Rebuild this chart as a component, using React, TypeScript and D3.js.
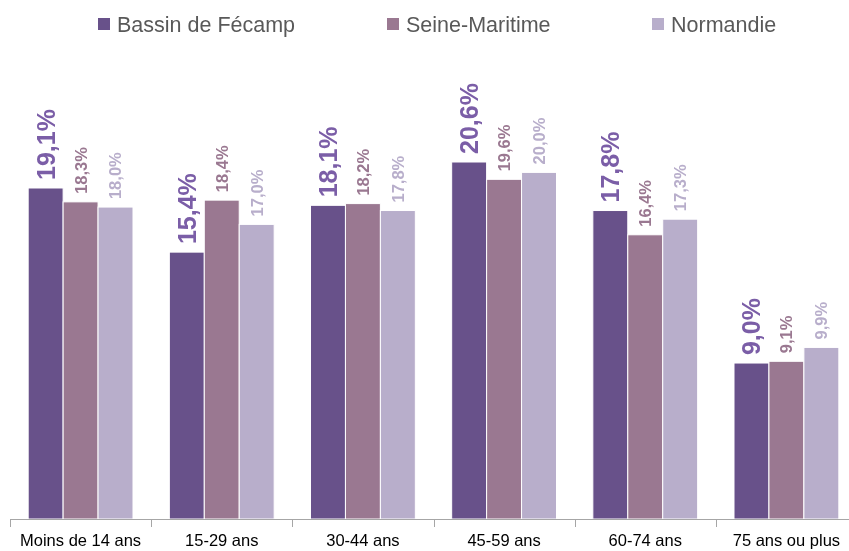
import React, { useEffect, useRef } from 'react';
import * as d3 from 'd3';

const categories = ['Moins de 14 ans', '15-29 ans', '30-44 ans', '45-59 ans', '60-74 ans', '75 ans ou plus'];
const seriesNames = ['Bassin de Fécamp', 'Seine-Maritime', 'Normandie'];
const bassin = [19.1, 15.4, 18.1, 20.6, 17.8, 9.0];
const seine = [18.3, 18.4, 18.2, 19.6, 16.4, 9.1];
const normandie = [18.0, 17.0, 17.8, 20.0, 17.3, 9.9];

const barColors = ['#68518a', '#9a7891', '#b8aecb'];
const labelColors = ['#7b5ea7', '#9a7891', '#b8aecb'];

export default function App() {
  const svgRef = useRef<SVGSVGElement>(null);

  useEffect(() => {
    const width = 849;
    const height = 551;
    const svg = d3.select(svgRef.current)
      .attr('width', width)
      .attr('height', height)
      .style('font-family', '"Liberation Sans", Arial, sans-serif');
    svg.selectAll('*').remove();

    const values = [bassin, seine, normandie];
    const baseY = 519;

    // scales
    const x0 = d3.scaleBand<string>().domain(categories).range([10, 857]);
    const x1 = d3.scaleBand<string>().domain(seriesNames).range([0, x0.bandwidth()])
      .paddingInner(0).paddingOuter(0.52);
    const y = d3.scaleLinear().domain([0, 25]).range([baseY, baseY - 25 * 17.33]);

    // bars
    const groups = svg.append('g').selectAll('g')
      .data(categories)
      .join('g')
      .attr('transform', d => `translate(${x0(d)},0)`);

    groups.selectAll('rect')
      .data((d, i) => seriesNames.map((s, j) => ({ s, j, v: values[j][i] })))
      .join('rect')
      .attr('x', d => x1(d.s)!)
      .attr('y', d => y(d.v))
      .attr('width', x1.bandwidth())
      .attr('height', d => baseY - y(d.v))
      .attr('fill', d => barColors[d.j])
      .attr('stroke', '#ffffff')
      .attr('stroke-width', 1);

    // value labels
    groups.selectAll('text')
      .data((d, i) => seriesNames.map((s, j) => ({ s, j, v: values[j][i] })))
      .join('text')
      .attr('transform', d => `translate(${x1(d.s)! + x1.bandwidth() / 2},${y(d.v) - 8}) rotate(-90)`)
      .attr('dy', '0.36em')
      .attr('text-anchor', 'start')
      .attr('font-weight', 'bold')
      .attr('font-size', d => d.j === 0 ? 25 : 16.5)
      .attr('fill', d => labelColors[d.j])
      .text(d => d.v.toFixed(1).replace('.', ',') + '%');

    // axis
    const axis = svg.append('g');
    axis.append('line')
      .attr('x1', 10).attr('x2', width)
      .attr('y1', baseY + 0.5).attr('y2', baseY + 0.5)
      .attr('stroke', '#a6a6a6');
    axis.selectAll('.tick')
      .data(categories)
      .join('line')
      .attr('x1', d => Math.round(x0(d)!) + 0.5)
      .attr('x2', d => Math.round(x0(d)!) + 0.5)
      .attr('y1', baseY)
      .attr('y2', baseY + 8)
      .attr('stroke', '#a6a6a6');
    axis.selectAll('text')
      .data(categories)
      .join('text')
      .attr('x', d => x0(d)! + x0.bandwidth() / 2)
      .attr('y', 546)
      .attr('text-anchor', 'middle')
      .attr('font-size', 16.5)
      .attr('fill', '#000000')
      .text(d => d);

    // legend
    const legendX = [98, 387, 652];
    const legend = svg.append('g').selectAll('g')
      .data(seriesNames)
      .join('g')
      .attr('transform', (d, i) => `translate(${legendX[i]},18)`);
    legend.append('rect')
      .attr('width', 12).attr('height', 12)
      .attr('fill', (d, i) => barColors[i]);
    legend.append('text')
      .attr('x', 19)
      .attr('y', 13.5)
      .attr('font-size', 21.5)
      .attr('fill', '#595959')
      .text(d => d);
  }, []);

  return (
    <div style={{ position: 'fixed', left: 0, top: 0 }}>
      <svg ref={svgRef}></svg>
    </div>
  );
}
